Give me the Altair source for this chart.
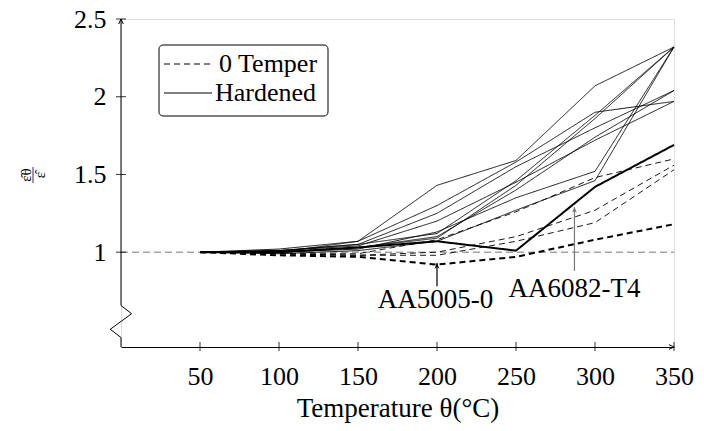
import altair as alt
import pandas as pd

# ---------------- data ----------------
temps = [50, 100, 150, 200, 250, 300, 350]

hardened = {
    "H1": [1.00, 1.00, 1.07, 1.43, 1.59, 2.07, 2.32],
    "H2": [1.00, 1.01, 1.05, 1.12, 1.46, 1.88, 2.32],
    "H3": [1.00, 1.00, 1.03, 1.09, 1.43, 1.86, 2.32],
    "H4": [1.00, 1.00, 1.02, 1.13, 1.35, 1.52, 2.32],
    "H5": [1.00, 0.99, 1.01, 1.07, 1.27, 1.46, 2.32],
    "H6": [1.00, 1.02, 1.07, 1.30, 1.58, 1.90, 1.97],
    "H7": [1.00, 1.01, 1.04, 1.20, 1.45, 1.72, 1.97],
    "H8": [1.00, 1.00, 1.03, 1.10, 1.40, 1.74, 2.04],
    "H9": [1.00, 1.01, 1.05, 1.25, 1.55, 1.80, 2.04],
}
temper0 = {
    "D1": [1.00, 0.99, 0.99, 1.08, 1.26, 1.48, 1.60],
    "D2": [1.00, 0.99, 0.98, 1.00, 1.10, 1.27, 1.56],
    "D3": [1.00, 0.99, 0.98, 0.98, 1.07, 1.19, 1.53],
}
aa6082_t4 = [1.00, 1.00, 1.03, 1.07, 1.01, 1.42, 1.69]   # thick solid
aa5005_0 = [1.00, 0.98, 0.97, 0.92, 0.97, 1.08, 1.18]    # thick dashed

legend_labels = ["0 Temper", "Hardened"]
x_ticks = [50, 100, 150, 200, 250, 300, 350]
y_ticks = [1, 1.5, 2, 2.5]

# annotations
ann_labels = ["AA5005-0", "AA6082-T4"]
ann_x = [200, 287]
ann_base = [0.78, 0.88]
ann_tip = [0.93, 1.29]
ann_text_x = [199, 287]
ann_text_y = [0.69, 0.76]

# y axis with break (zig-zag)
axis_x = [0, 0, 6.7, -6.8, 0, 0]
axis_y = [2.5, 0.657, 0.604, 0.504, 0.451, 0.39]

X_DOM = [0, 350]
Y_DOM = [0.39, 2.5]
W, H = 553, 328
FONT = "Liberation Serif"
FS = 26

rows = []
for name, vals in hardened.items():
    for t, v in zip(temps, vals):
        rows.append({"T": t, "r": v, "series": name, "type": "Hardened", "thick": False})
for name, vals in temper0.items():
    for t, v in zip(temps, vals):
        rows.append({"T": t, "r": v, "series": name, "type": "0 Temper", "thick": False})
for t, v in zip(temps, aa6082_t4):
    rows.append({"T": t, "r": v, "series": "AA6082-T4", "type": "Hardened", "thick": True})
for t, v in zip(temps, aa5005_0):
    rows.append({"T": t, "r": v, "series": "AA5005-0", "type": "0 Temper", "thick": True})
df = pd.DataFrame(rows)

xs = alt.Scale(domain=X_DOM, nice=False, zero=False)
ys = alt.Scale(domain=Y_DOM, nice=False, zero=False)
dash_scale = alt.Scale(domain=legend_labels, range=[[6, 4], [1, 0]])

ref = alt.Chart(pd.DataFrame({"r": [1.0]})).mark_rule(
    color="#777777", strokeWidth=1, strokeDash=[7, 4]
).encode(y=alt.Y("r:Q", scale=ys), x=alt.value(0), x2=alt.value(W))

thin = alt.Chart(df[~df.thick]).mark_line(color="black", strokeWidth=0.9).encode(
    x=alt.X("T:Q", scale=xs,
            axis=alt.Axis(values=x_ticks, title="Temperature θ(°C)", domain=True,
                          domainColor="black", domainWidth=1, ticks=False, grid=False,
                          labelFlush=False,
                          labelFont=FONT, labelFontSize=FS, labelColor="black",
                          labelPadding=16, titleFont=FONT, titleFontSize=27,
                          titleFontWeight="normal", titleColor="black", titlePadding=6)),
    y=alt.Y("r:Q", scale=ys,
            axis=alt.Axis(values=y_ticks, title=None, domain=False, ticks=False, grid=False,
                          format="~g", labelFont=FONT, labelFontSize=FS, labelColor="black",
                          labelPadding=15)),
    detail="series:N",
    strokeDash=alt.StrokeDash("type:N", scale=dash_scale, legend=None),
    order="T:Q",
)

thick = alt.Chart(df[df.thick]).mark_line(color="black", strokeWidth=2).encode(
    x=alt.X("T:Q", scale=xs),
    y=alt.Y("r:Q", scale=ys),
    detail="series:N",
    strokeDash=alt.StrokeDash("type:N", scale=dash_scale, legend=None),
    order="T:Q",
)

# hand-drawn legend box (pixel offsets from the plot's top-left corner)
leg_df = pd.DataFrame({"label": legend_labels, "ry": [45, 74], "tx": [98, 94]})
leg_box = alt.Chart(pd.DataFrame({"a": [0]})).mark_rect(
    fill="white", stroke="black", strokeWidth=1, cornerRadius=4
).encode(x=alt.value(38), x2=alt.value(207), y=alt.value(26), y2=alt.value(97))
leg_lines = alt.Chart(leg_df).mark_rule(color="black", strokeWidth=1).encode(
    x=alt.value(43), x2=alt.value(91), y=alt.Y("ry:Q", scale=None),
    strokeDash=alt.StrokeDash("label:N", scale=dash_scale, legend=None))
leg_text = alt.Chart(leg_df).mark_text(font=FONT, fontSize=26, color="black",
                                       align="left", baseline="middle").encode(
    x=alt.X("tx:Q", scale=None), y=alt.Y("ry:Q", scale=None), text="label:N")

# axes drawn by hand
yaxis_df = pd.DataFrame({"x": axis_x, "y": axis_y, "i": list(range(len(axis_x)))})
yaxis = alt.Chart(yaxis_df).mark_line(color="black", strokeWidth=1).encode(
    x=alt.X("x:Q", scale=xs), y=alt.Y("y:Q", scale=ys), order="i:Q")

xt = alt.Chart(pd.DataFrame({"T": x_ticks})).mark_rule(color="black", strokeWidth=0.8).encode(
    x=alt.X("T:Q", scale=xs), y=alt.value(H - 5), y2=alt.value(H + 4))
yt = alt.Chart(pd.DataFrame({"r": y_ticks})).mark_rule(color="black", strokeWidth=0.8).encode(
    y=alt.Y("r:Q", scale=ys), x=alt.value(-5), x2=alt.value(5))

chev_right = "M-1.3,-0.6 L0,0 L-1.3,0.6"
chev_up = "M-0.6,1.3 L0,0 L0.6,1.3"
xarrow = alt.Chart(pd.DataFrame({"T": [X_DOM[1]], "r": [Y_DOM[0]]})).mark_point(
    shape=chev_right, filled=False, color="black", strokeWidth=1, size=60, opacity=1
).encode(x=alt.X("T:Q", scale=xs), y=alt.Y("r:Q", scale=ys))
yarrow = alt.Chart(pd.DataFrame({"T": [X_DOM[0]], "r": [Y_DOM[1]]})).mark_point(
    shape=chev_up, filled=False, color="black", strokeWidth=1, size=60, opacity=1
).encode(x=alt.X("T:Q", scale=xs), y=alt.Y("r:Q", scale=ys))

# annotations
ann_df = pd.DataFrame({"label": ann_labels, "x": ann_x, "b": ann_base, "t": ann_tip,
                       "tx": ann_text_x, "ty": ann_text_y, "col": ["black", "#777777"]})
arrows = alt.Chart(ann_df).mark_rule(strokeWidth=1.2).encode(
    x=alt.X("x:Q", scale=xs), y=alt.Y("b:Q", scale=ys), y2="t:Q",
    color=alt.Color("col:N", scale=None))
heads = alt.Chart(ann_df).mark_point(
    shape="M0,0 L0.7,1.6 L0,1.1 L-0.7,1.6 Z", filled=True, size=50, opacity=1
).encode(x=alt.X("x:Q", scale=xs), y=alt.Y("t:Q", scale=ys),
         color=alt.Color("col:N", scale=None))
texts = alt.Chart(ann_df).mark_text(font=FONT, fontSize=27, color="black",
                                    align="center", baseline="middle").encode(
    x=alt.X("tx:Q", scale=xs), y=alt.Y("ty:Q", scale=ys), text="label:N")

# y-axis label: rotated fraction  ε̂_θ / ε̂
ylab_num = alt.Chart(pd.DataFrame({"t": ["ε\u0302θ"]})).mark_text(
    font=FONT, fontSize=15, angle=270, color="black", align="center", baseline="middle"
).encode(x=alt.value(-95), y=alt.value(156), text="t:N")
ylab_bar = alt.Chart(pd.DataFrame({"a": [0]})).mark_rule(color="black", strokeWidth=0.8).encode(
    x=alt.value(-88), y=alt.value(148), y2=alt.value(164))
ylab_den = alt.Chart(pd.DataFrame({"t": ["ε\u0302"]})).mark_text(
    font=FONT, fontSize=15, angle=270, color="black", align="center", baseline="middle"
).encode(x=alt.value(-81), y=alt.value(156), text="t:N")

chart = alt.layer(
    ref, thin, thick, leg_box, leg_lines, leg_text, yaxis, xt, yt, xarrow, yarrow,
    arrows, heads, texts, ylab_num, ylab_bar, ylab_den
).properties(
    width=W, height=H, autosize=alt.AutoSizeParams(type="none"),
    padding={"left": 113, "top": 11, "right": 22, "bottom": 76}
).configure_view(stroke=None).configure(background="white")

chart.save("out.html", embed_options={"renderer": "svg", "actions": False})
